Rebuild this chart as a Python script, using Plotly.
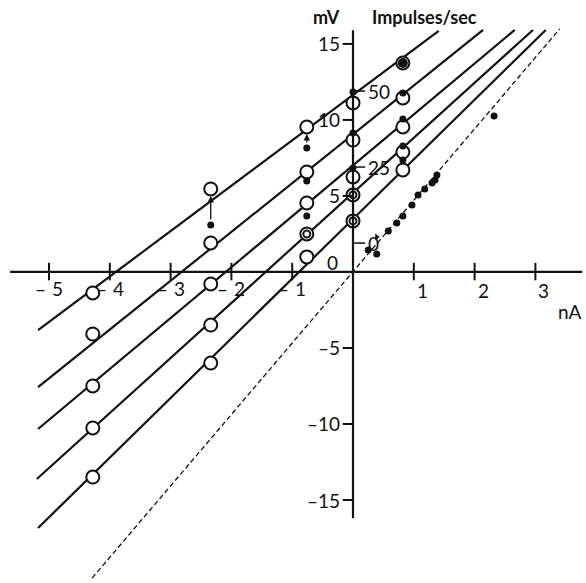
import plotly.graph_objects as go

# current steps (nA) where the open circles were measured
currents = [-4.28, -2.34, -0.76, 0.0, 0.82]

# membrane potential (mV) for each of the five lines, top to bottom
v_line1 = [-1.38, 5.46, 9.54, 11.12, 13.75]
v_line2 = [-4.08, 1.91, 6.58, 8.68, 11.45]
v_line3 = [-7.50, -0.79, 4.54, 6.25, 9.54]
v_line4 = [-10.26, -3.49, 2.50, 5.07, 7.89]
v_line5 = [-13.49, -5.99, 0.99, 3.36, 6.71]

# fitted straight lines: endpoints (nA, mV)
fit_x0 = [-5.18, -5.18, -5.18, -5.20, -5.18]
fit_y0 = [-3.82, -7.57, -10.33, -13.62, -16.84]
fit_x1 = [1.41, 2.14, 2.66, 2.96, 3.17]
fit_y1 = [15.86, 15.92, 15.92, 15.92, 15.92]

# dashed line
dash_x = [-4.29, 3.40]
dash_y = [-20.13, 15.99]

# filled dots (impulse rates) near the open circles
imp_x = [-2.34, -0.76, -0.76, -0.76, 0.0, 0.0, 0.0, 0.82, 0.82, 0.82, 0.82]
imp_y = [3.09, 8.16, 5.99, 3.68, 11.84, 9.14, 6.84, 11.78, 10.07, 8.29, 7.37]

# dots along the dashed line
dd_x = [0.25, 0.39, 0.58, 0.72, 0.82, 0.97, 1.07, 1.18, 1.30, 1.35, 1.38, 2.32]
dd_y = [1.45, 1.18, 2.70, 3.22, 3.68, 4.41, 5.07, 5.46, 5.86, 6.05, 6.38, 10.26]

# double-ringed circles and the filled one
ring_x = [-0.76, 0.0, 0.0]
ring_y = [2.50, 5.07, 3.36]
big_dot_x = [0.82]
big_dot_y = [13.75]

# arrows from dot up to circle
arrow_from = [(-2.34, 3.09), (-0.76, 8.16)]
arrow_to = [(-2.34, 5.46), (-0.76, 9.54)]

x_ticks = [-5, -4, -3, -2, -1, 1, 2, 3]
y_ticks = [-15, -10, -5, 5, 10, 15]
imp_ticks = [0, 25, 50]
imp_zero = 1.9     # mV position of 0 impulses/sec
imp_scale = 0.2    # mV per impulse/sec

FONT = "Lato"
BLACK = "#111111"

fig = go.Figure()

for i in range(5):
    fig.add_trace(go.Scatter(
        x=[fit_x0[i], fit_x1[i]], y=[fit_y0[i], fit_y1[i]],
        mode="lines", line=dict(color=BLACK, width=2.2), hoverinfo="skip"))

fig.add_trace(go.Scatter(
    x=dash_x, y=dash_y, mode="lines",
    line=dict(color=BLACK, width=1.3, dash="5px,3px"), hoverinfo="skip"))

for v in [v_line1, v_line2, v_line3, v_line4, v_line5]:
    fig.add_trace(go.Scatter(
        x=currents, y=v, mode="markers",
        marker=dict(symbol="circle", size=13, color="white",
                    line=dict(color=BLACK, width=2))))

fig.add_trace(go.Scatter(
    x=ring_x, y=ring_y, mode="markers",
    marker=dict(symbol="circle-open", size=7, color=BLACK, line=dict(width=2))))
fig.add_trace(go.Scatter(
    x=big_dot_x, y=big_dot_y, mode="markers",
    marker=dict(symbol="circle", size=10, color=BLACK)))
fig.add_trace(go.Scatter(
    x=imp_x, y=imp_y, mode="markers",
    marker=dict(symbol="circle", size=7, color=BLACK)))
fig.add_trace(go.Scatter(
    x=dd_x, y=dd_y, mode="markers",
    marker=dict(symbol="circle", size=7, color=BLACK)))
fig.add_trace(go.Scatter(
    x=[0.39], y=[2.30], mode="markers",
    marker=dict(symbol="triangle-right", size=6, color=BLACK)))

# axes through the origin
fig.add_shape(type="line", x0=-5.64, x1=3.77, y0=0, y1=0,
              line=dict(color=BLACK, width=2.2))
fig.add_shape(type="line", x0=0, x1=0, y0=-16.2, y1=15.9,
              line=dict(color=BLACK, width=2.2))

ann = []
for t in x_ticks:
    fig.add_shape(type="line", x0=t, x1=t, y0=-0.55, y1=0.6,
                  line=dict(color=BLACK, width=2))
    if t < 0:
        ann.append(dict(x=t, y=-1.1, text="\u2013", xanchor="right", xshift=-1,
                        showarrow=False))
        ann.append(dict(x=t, y=-1.1, text=str(-t), xanchor="left", xshift=1,
                        showarrow=False))
    else:
        ann.append(dict(x=t, y=-1.25, text=str(t), xanchor="left", xshift=1,
                        showarrow=False))

for t in y_ticks:
    fig.add_shape(type="line", x0=-0.17, x1=0, y0=t, y1=t,
                  line=dict(color=BLACK, width=2))
    label = str(t) if t > 0 else "\u2013" + str(-t)
    ann.append(dict(x=-0.18, y=t, text=label, xanchor="right", showarrow=False))

for t in imp_ticks:
    yv = imp_zero + imp_scale * t
    fig.add_shape(type="line", x0=0, x1=0.2, y0=yv, y1=yv,
                  line=dict(color=BLACK, width=1.5))
    ann.append(dict(x=0.21, y=yv, text=str(t), xanchor="left", showarrow=False))

ann.append(dict(x=-0.33, y=0.62, text="0", showarrow=False))
ann.append(dict(x=3.57, y=-2.6, text="nA", showarrow=False))
ann.append(dict(x=-0.44, y=16.75, text="<b>mV</b>", showarrow=False,
                font=dict(size=18, family=FONT, color=BLACK)))
ann.append(dict(x=1.18, y=16.75, text="<b>Impulses/sec</b>", showarrow=False,
                font=dict(size=18, family=FONT, color=BLACK)))

for (fx, fy), (tx, ty) in zip(arrow_from, arrow_to):
    ann.append(dict(x=tx, y=ty, ax=fx, ay=fy, axref="x", ayref="y",
                    xref="x", yref="y", text="", showarrow=True,
                    arrowhead=2, arrowsize=1, arrowwidth=1.3,
                    arrowcolor=BLACK, standoff=7, startstandoff=4))

fig.update_layout(
    width=586, height=583,
    margin=dict(l=0, r=0, t=0, b=0),
    paper_bgcolor="white", plot_bgcolor="white",
    showlegend=False,
    font=dict(family=FONT, size=19, color=BLACK),
    xaxis=dict(range=[-5.806, 3.832], visible=False),
    yaxis=dict(range=[-20.46, 17.89], visible=False),
    annotations=ann,
)

fig.write_html("out.html", config={"displayModeBar": False},
               post_script="document.body.style.margin='0';")
